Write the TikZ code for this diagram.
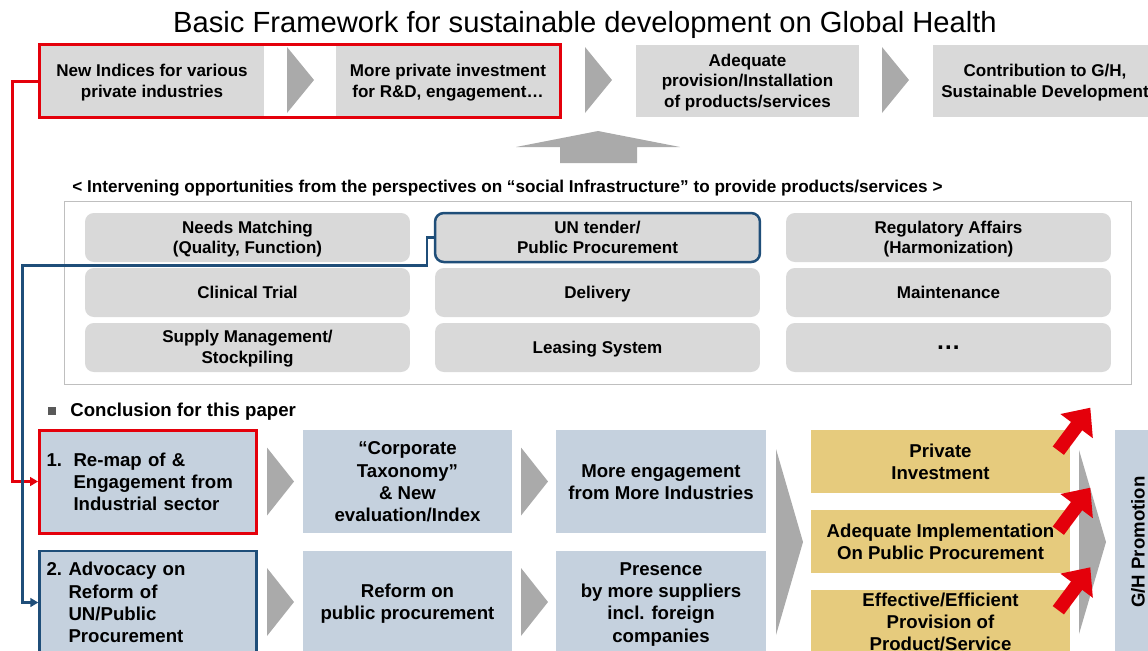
\documentclass[tikz,border=0pt]{standalone}
\usepackage{fontspec}
\setmainfont{Liberation Sans}
\usetikzlibrary{arrows.meta,calc,fit}
\definecolor{boxgray}{RGB}{217,217,217}
\definecolor{chevgray}{RGB}{170,170,170}
\definecolor{framegray}{RGB}{191,191,191}
\definecolor{slate}{RGB}{197,209,222}
\definecolor{sand}{RGB}{230,203,125}
\definecolor{alertred}{RGB}{228,0,11}
\definecolor{deepblue}{RGB}{31,78,121}
\definecolor{bulletgray}{RGB}{89,89,89}
\newcommand\capa{\rule[-1.6pt]{0pt}{10.2pt}}
\newcommand\capb{\rule[-1.75pt]{0pt}{11.1pt}}
\begin{document}
\begin{tikzpicture}[x=0.02cm,y=-0.02cm,>={Triangle[length=4.5pt,width=5pt]},
    smalltext/.style={font=\bfseries\fontsize{9.7}{11.7}\selectfont},
    bigtext/.style={font=\bfseries\fontsize{10.6}{12.6}\selectfont},
    topbox/.style={smalltext,fill=boxgray,inner sep=0pt,minimum width=4.48cm,minimum height=1.44cm,align=center},
    optbox/.style={smalltext,fill=boxgray,rounded corners=5pt,inner sep=0pt,minimum width=6.5cm,minimum height=0.98cm,align=center},
    flowbox/.style={bigtext,fill=slate,inner sep=0pt,minimum height=2.06cm,align=center},
    stepbox/.style={flowbox,text width=4.06cm,align=left,inner xsep=0.14cm},
    goalbox/.style={bigtext,fill=sand,inner sep=0pt,minimum width=5.18cm,minimum height=1.26cm,align=center},
    redarrow/.style={draw=alertred,line width=0.28cm,-{Triangle[length=0.46cm,width=0.78cm]}}]
\useasboundingbox (0,0) rectangle (1148,650);
\node[font=\fontsize{16.6}{20}\selectfont] (title) at (585,25) {Basic Framework for sustainable development on Global Health};
\node[topbox] (idx) at (152,81) {\capa New Indices for various\\private industries\capa};
\node[topbox] (inv) at (448,81) {\capa More private investment\\for R\&D, engagement…\capa};
\node[topbox] (prov) at (747.5,81) {\capa Adequate\\provision/Installation\\of products/services\capa};
\node[topbox] (contrib) at (1045,81) {\capa Contribution to G/H,\\Sustainable Development\capa};
\node[fit=(idx)(inv),draw=alertred,line width=0.06cm,inner sep=0pt] (redframe) {};
\foreach \x/\y/\h in {287/80/33,585/80/33,882/80/33,267/481.5/34,521/481.5/34,267/602/34,521/602/34,776/542/93,1079/542/92}
  \fill[chevgray] (\x,\y-\h) -- (\x+27,\y) -- (\x,\y+\h) -- cycle;
\fill[chevgray] (598,131) -- (680,147) -- (637,147) -- (637,163) -- (560,163) -- (560,147) -- (516,147) -- cycle;
\node[font=\bfseries\fontsize{9.75}{11}\selectfont,inner sep=0pt] (caption) at (507.5,187) {\capa< Intervening opportunities from the perspectives on “social Infrastructure” to provide products/services >\capa};
\node[optbox] (needs) at (247.5,237.5) {\capa Needs Matching\\(Quality, Function)\capa};
\node[optbox,draw=deepblue,line width=0.05cm] (tender) at (597.5,237.5) {\capa UN tender/\\Public Procurement\capa};
\node[optbox] (regul) at (948.5,237.5) {\capa Regulatory Affairs\\(Harmonization)\capa};
\node[optbox] (trial) at (247.5,292.5) {\capa Clinical Trial\capa};
\node[optbox] (deliv) at (597.5,292.5) {\capa Delivery\capa};
\node[optbox] (maint) at (948.5,292.5) {\capa Maintenance\capa};
\node[optbox] (supply) at (247.5,347.5) {\capa Supply Management/\\Stockpiling\capa};
\node[optbox] (lease) at (597.5,347.5) {\capa Leasing System\capa};
\node[optbox,font=\bfseries\fontsize{14}{14}\selectfont] (more) at (948.5,347.5) {…};
\node[fit=(needs)(more),draw=framegray,inner xsep=0.4cm,inner ysep=0.23cm] (frame) {};
\node[fill=bulletgray,inner sep=0pt,minimum size=0.16cm] (bullet) at (52,411) {};
\node[bigtext,anchor=west,inner sep=0pt] (concl) at (70,410) {\capb Conclusion for this paper\capb};
\node[stepbox,draw=alertred,line width=0.06cm] (remap) at (148,481.5)
  {\capb\makebox[0.54cm][l]{1.}Re-map of \&\\\hspace*{0.54cm}Engagement from\\\hspace*{0.54cm}Industrial sector\capb};
\node[flowbox,minimum width=4.18cm] (taxo) at (407.5,481.5) {\capb“Corporate\\Taxonomy”\\\& New\\evaluation/Index\capb};
\node[flowbox,minimum width=4.2cm] (engage) at (661,481.5) {\capb More engagement\\from More Industries\capb};
\node[stepbox,draw=deepblue,line width=0.05cm] (advoc) at (148,602.5)
  {\capb\makebox[0.44cm][l]{2.}Advocacy on\\\hspace*{0.44cm}Reform of\\\hspace*{0.44cm}UN/Public\\\hspace*{0.44cm}Procurement\capb};
\node[flowbox,minimum width=4.18cm] (reform) at (407.5,602.5) {\capb Reform on\\public procurement\capb};
\node[flowbox,minimum width=4.2cm] (presence) at (661,602.5) {\capb Presence\\by more suppliers\\incl. foreign\\companies\capb};
\node[goalbox] (privinv) at (940.5,461.5) {\capb Private\\Investment\capb};
\node[goalbox] (implem) at (940.5,541.5) {\capb Adequate Implementation\\On Public Procurement\capb};
\node[goalbox] (effect) at (940.5,621.5) {\capb Effective/Efficient\\Provision of\\Product/Service\capb};
\node[bigtext,fill=slate,inner sep=0pt,minimum width=4.48cm,minimum height=0.92cm,rotate=90] (promo) at (1138,542) {G/H Promotion};
\draw[alertred,line width=0.06cm,->] (redframe.west) -- ++(-26,0) |- (remap.west);
\draw[deepblue,line width=0.05cm,->] (tender.west) -- ++(-7,0) -- ++(0,28) -| ($(advoc.west)+(-16,0)$) -- (advoc.west);
\foreach \g in {privinv,implem,effect}
  \draw[redarrow] ($(\g.north east)+(-12,21)$) -- ++(32,-43);
\end{tikzpicture}
\end{document}
